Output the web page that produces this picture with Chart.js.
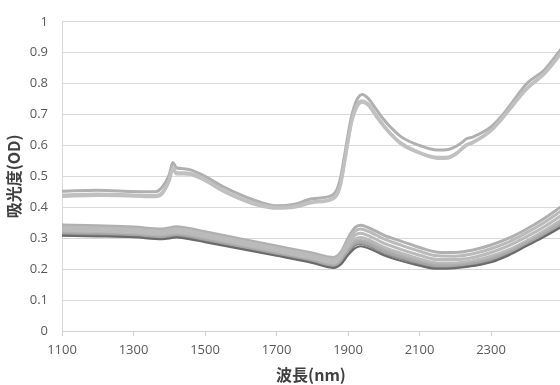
<!DOCTYPE html>
<html>
<head>
<meta charset="utf-8">
<script src="https://cdn.jsdelivr.net/npm/chart.js@4.4.1/dist/chart.umd.min.js"></script>
<style>
  html, body { margin: 0; padding: 0; background: #ffffff; }
  #wrap { width: 560px; height: 385px; position: relative; }
</style>
</head>
<body>
<div id="wrap"><canvas id="c" width="560" height="385"></canvas></div>
<script>
// Wavelength grid (nm) for the high-absorbance group
const wlHigh = [1100,1200,1300,1360,1380,1400,1410,1420,1440,1460,1500,1550,1600,1650,1700,1750,1800,1850,1870,1880,1890,1900,1910,1925,1940,1955,1980,2000,2020,2050,2100,2150,2180,2200,2220,2230,2250,2300,2330,2360,2400,2450,2500];
const high1 = [.452,.455,.451,.450,.465,.505,.545,.528,.525,.521,.500,.467,.440,.418,.405,.410,.428,.436,.460,.500,.565,.635,.695,.748,.765,.754,.715,.684,.658,.627,.600,.585,.587,.596,.611,.621,.628,.660,.695,.740,.800,.845,.918];
const high2 = [.440,.443,.440,.438,.448,.490,.528,.512,.512,.510,.490,.456,.430,.410,.400,.403,.418,.426,.445,.480,.545,.615,.678,.730,.745,.736,.697,.666,.639,.607,.578,.562,.563,.573,.592,.602,.612,.650,.687,.730,.785,.835,.905];
const high3 = [.435,.438,.436,.434,.443,.485,.522,.508,.508,.506,.486,.452,.426,.406,.397,.400,.415,.423,.441,.475,.540,.610,.673,.724,.740,.731,.692,.661,.635,.603,.575,.558,.559,.570,.589,.599,.609,.647,.684,.727,.782,.832,.902];

// Wavelength grid (nm) for the low-absorbance group
const wlLow = [1100,1200,1300,1380,1420,1440,1500,1600,1700,1800,1860,1880,1900,1920,1935,1960,2000,2050,2100,2150,2200,2250,2300,2350,2400,2450,2500];
const low1 = [.343,.340,.336,.330,.337,.335,.321,.298,.275,.252,.238,.255,.300,.335,.342,.333,.310,.290,.270,.255,.254,.262,.278,.300,.330,.365,.405];
const low2 = [.336,.333,.329,.323,.330,.328,.314,.291,.268,.245,.231,.247,.290,.323,.330,.321,.298,.277,.258,.243,.242,.250,.266,.288,.318,.352,.391];
const low3 = [.328,.325,.321,.315,.322,.320,.306,.283,.260,.237,.222,.237,.279,.310,.316,.307,.284,.263,.245,.231,.231,.238,.254,.276,.305,.338,.376];
const low4 = [.320,.318,.314,.308,.314,.312,.299,.276,.253,.230,.215,.229,.266,.296,.302,.294,.271,.251,.233,.220,.220,.227,.242,.263,.292,.325,.362];
const low5 = [.316,.314,.310,.304,.310,.308,.295,.272,.249,.226,.211,.224,.258,.287,.293,.285,.262,.242,.225,.213,.213,.220,.234,.256,.285,.317,.353];
const low6 = [.313,.311,.307,.301,.307,.305,.292,.269,.247,.224,.208,.220,.253,.280,.286,.278,.256,.236,.219,.208,.209,.216,.229,.251,.280,.311,.346];
const low7 = [.311,.309,.305,.299,.305,.303,.290,.267,.245,.222,.206,.218,.249,.276,.280,.272,.250,.231,.215,.204,.206,.213,.226,.248,.277,.308,.342];
const low8 = [.308,.306,.303,.297,.302,.300,.287,.265,.243,.220,.204,.215,.245,.268,.274,.266,.245,.226,.211,.201,.203,.210,.222,.245,.275,.305,.338];

const xTicks = [1100,1300,1500,1700,1900,2100,2300];
const yTicks = [0,0.1,0.2,0.3,0.4,0.5,0.6,0.7,0.8,0.9,1];

function pts(xs, ys) { return xs.map((x, i) => ({ x: x, y: ys[i] })); }

const datasets = [];
const curve = { pointRadius: 0, tension: 0.4, cubicInterpolationMode: 'monotone' };
// a plain single stroke
function solid(xs, ys, color, width) {
  datasets.push(Object.assign({ data: pts(xs, ys), borderColor: color, borderWidth: width }, curve));
}
// a hollow stroke: grey casing with a white core
function hollow(xs, ys, color) {
  datasets.push(Object.assign({ data: pts(xs, ys), borderColor: color, borderWidth: 3 }, curve));
  datasets.push(Object.assign({ data: pts(xs, ys), borderColor: '#ffffff', borderWidth: 1.6 }, curve));
}

hollow(wlHigh, high3, '#c0c0c0');
hollow(wlHigh, high2, '#c0c0c0');
hollow(wlHigh, high1, '#b0b0b0');

solid(wlLow, low8, '#6a6a6a', 2);
solid(wlLow, low7, '#858585', 1.2);
hollow(wlLow, low6, '#a6a6a6');
hollow(wlLow, low5, '#b0b0b0');
hollow(wlLow, low4, '#bababa');
hollow(wlLow, low3, '#bababa');
hollow(wlLow, low2, '#bababa');
hollow(wlLow, low1, '#b0b0b0');

const tickFont = { family: '"Open Sans", "Liberation Sans", sans-serif', size: 13 };
const titleFont = { family: '"Noto Sans CJK JP", "Noto Sans", sans-serif', size: 16, weight: 'bold' };

new Chart(document.getElementById('c'), {
  type: 'line',
  data: { datasets: datasets },
  options: {
    responsive: false,
    animation: false,
    events: [],
    layout: { padding: { left: 0, right: 0, top: 12, bottom: 0 } },
    plugins: { legend: { display: false }, tooltip: { enabled: false } },
    scales: {
      x: {
        type: 'linear',
        min: 1100,
        max: 2493,
        afterBuildTicks: (s) => { s.ticks = xTicks.map(v => ({ value: v })); },
        afterFit: (s) => { s.height = 54; },
        border: { display: true, color: '#d0d0d0', width: 1 },
        grid: { drawOnChartArea: false, drawTicks: true, tickLength: 5, color: '#d0d0d0' },
        ticks: { color: '#595959', font: tickFont, padding: 6, maxRotation: 0, includeBounds: false, callback: (v) => String(v) },
        title: { display: true, text: '波長(nm)', color: '#404040', font: titleFont, padding: { top: 8, bottom: 0 } }
      },
      y: {
        min: 0,
        max: 1,
        afterBuildTicks: (s) => { s.ticks = yTicks.map(v => ({ value: v })); },
        afterFit: (s) => { s.width = 62; },
        border: { display: true, color: '#d9d9d9', width: 1 },
        grid: { color: '#d9d9d9', drawTicks: false },
        ticks: { color: '#595959', font: tickFont, padding: 14, callback: (v) => String(v) },
        title: { display: true, text: '吸光度(OD)', color: '#404040', font: titleFont, padding: { top: 4, bottom: 4 } }
      }
    }
  }
});
</script>
</body>
</html>
